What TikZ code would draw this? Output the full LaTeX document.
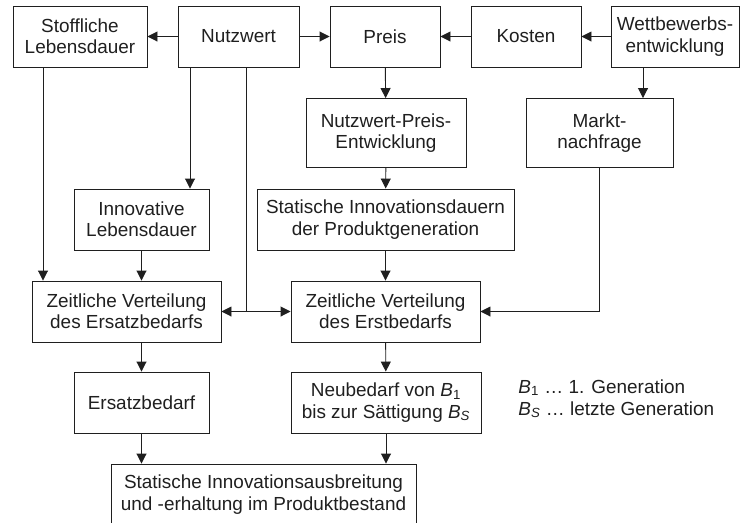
\documentclass[tikz,border=0pt]{standalone}
\usepackage{fontspec}
\setmainfont{Liberation Sans}
\usetikzlibrary{arrows.meta,calc}

\begin{document}
\begin{tikzpicture}[x=0.75pt,y=-0.75pt,line width=0.7pt,color=black!88,
  box/.style={draw,align=center,inner sep=0pt,minimum height=45.75pt},
  wd/.style={minimum width=#1*0.75pt},
  >={Triangle[length=7.5pt,width=7.5pt]},
  font=\fontsize{14.2}{16}\selectfont]
\useasboundingbox (0,0) rectangle (741,522);

% Top row
\node (stoff) at (80,36.5) [box,wd=134] {Stoffliche\\Lebensdauer};
\node (nutz) at (238.5,36.5) [box,wd=121] {Nutzwert};
\node (preis) at (385,36.5) [box,wd=110] {Preis};
\node (kosten) at (526,36.5) [box,wd=110] {Kosten};
\node (wett) at (675,36.5) [box,wd=128] {Wettbewerbs-\\entwicklung};
\draw[->] (nutz) -- (stoff);
\draw[->] (nutz) -- (preis);
\draw[->] (kosten) -- (preis);
\draw[->] (wett) -- (kosten);

% Second row
\node (nwp) at (386,133) [box,wd=160,minimum height=51.75pt] {Nutzwert-Preis-\\Entwicklung};
\node (markt) at (599.5,133) [box,wd=147,minimum height=51.75pt] {Markt-\\nachfrage};
\coordinate (wettout) at (643,0);
\draw[->] (preis) -- (nwp);
\draw[->] (wett.south -| wettout) -- (markt.north -| wettout);

% Third row
\node (innov) at (141.5,219.5) [box,wd=135] {Innovative\\Lebensdauer};
\node (stat) at (385.5,219.5) [box,wd=257] {Statische Innovationsdauern\\der Produktgeneration};
\coordinate (nutzl) at (190,0);
\coordinate (nutzr) at (246,0);
\coordinate (stoffout) at (43,0);
\draw[->] (nutz.south -| nutzl) -- (innov.north -| nutzl);
\draw[->] (nwp) -- (stat);

% Zeitliche Verteilung
\node (zvers) at (126.5,311.5) [box,wd=189] {Zeitliche Verteilung\\des Ersatzbedarfs};
\node (zverst) at (385.5,311.5) [box,wd=189] {Zeitliche Verteilung\\des Erstbedarfs};
\draw[->] (stoff.south -| stoffout) -- (zvers.north -| stoffout);
\draw[->] (innov) -- (zvers.north -| innov);
\draw (nutz.south -| nutzr) -- (nutzr |- zvers);
\draw[<->] (zvers) -- (zverst);
\draw[->] (stat) -- (zverst);
\draw[->] (markt) |- (zverst);

% Bedarf
\node (ersatz) at (141.5,402.5) [box,wd=135] {Ersatzbedarf};
\node (neu) at (386,402.5) [box,wd=190] {Neubedarf von \textit{B}\textsubscript{1}\\bis zur S\"attigung \textit{B}\textsubscript{\textit{S}}};
\draw[->] (zvers.south -| ersatz) -- (ersatz);
\draw[->] (zverst) -- (neu);

% Bestand
\node (bestand) at (263.5,494.5) [box,wd=305] {Statische Innovationsausbreitung\\und -erhaltung im Produktbestand};
\draw[->] (ersatz) -- (bestand.north -| ersatz);
\draw[->] (neu) -- (bestand.north -| neu);

% Labels
\node (leg1) at (518,393) [anchor=base west,inner sep=0pt] {\textit{B}\textsubscript{1} … 1. Generation};
\node (leg2) at (518,415) [anchor=base west,inner sep=0pt] {\textit{B}\textsubscript{\textit{S}} … letzte Generation};
\end{tikzpicture}
\end{document}
